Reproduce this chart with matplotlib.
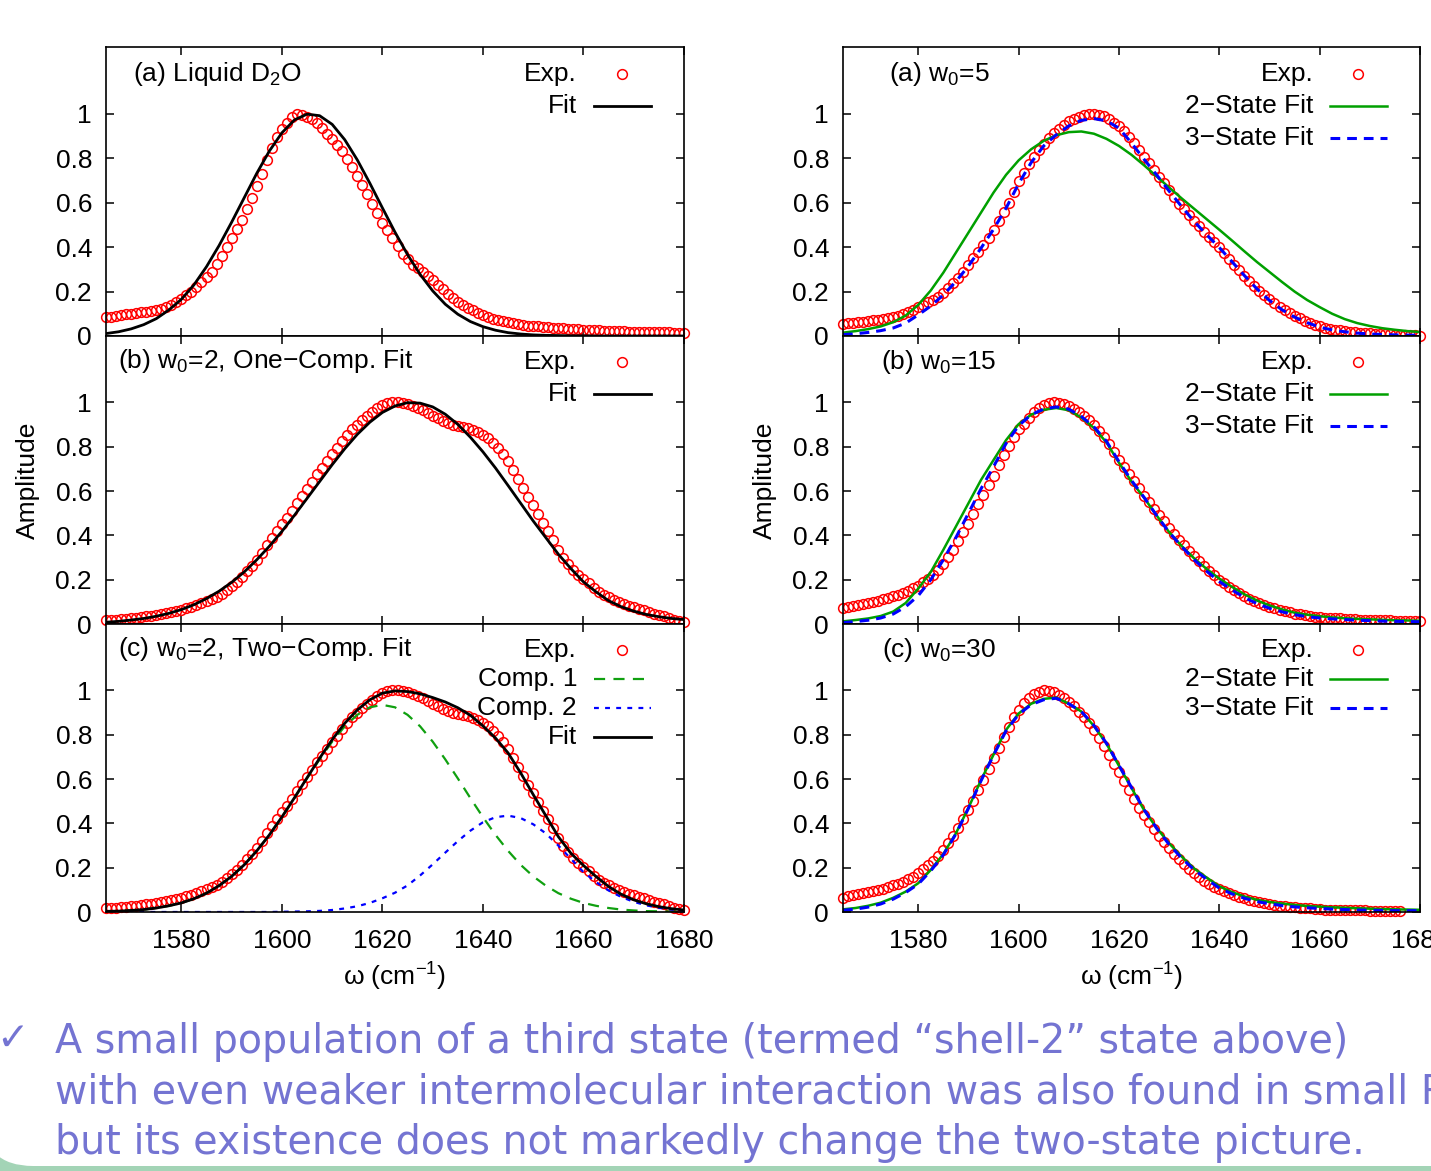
#!/usr/bin/env python3

# Amide/bend band lineshapes: experiment vs. one/two-component and
# two/three-state fits, redrawn in the old gnuplot look

import numpy as np
import matplotlib as mpl
mpl.use('Agg')
from matplotlib import pyplot as plt
from matplotlib.patches import FancyBboxPatch, Rectangle
from matplotlib.ticker import FormatStrFormatter
from matplotlib.transforms import IdentityTransform

plt.rcParams['font.family'] = ['Liberation Sans', 'DejaVu Sans']
plt.rcParams['font.size'] = 19
plt.rcParams['mathtext.fontset'] = 'custom'
plt.rcParams['mathtext.rm'] = 'Liberation Sans'
plt.rcParams['mathtext.it'] = 'Liberation Sans:italic'
plt.rcParams['mathtext.bf'] = 'Liberation Sans:bold'
plt.rcParams['lines.scale_dashes'] = False

# ---- data ----
# experimental spectra sampled every 1 cm^-1, fits every 2.5 cm^-1
wn_exp = np.arange(1565, 1681)
wn_exp_w30 = np.arange(1565, 1677)
wn_fit = np.arange(1565, 1680.1, 2.5)

d2o_exp = [.084, .087, .090, .094, .097, .100, .104, .107, .110, .114,
           .118, .123, .130, .140, .152, .167, .183, .200, .222, .245,
           .267, .290, .323, .360, .400, .440, .480, .520, .570, .620,
           .675, .730, .790, .845, .895, .930, .960, .985, 1.000, .995,
           .985, .975, .960, .935, .910, .885, .858, .830, .795, .760,
           .720, .680, .638, .595, .552, .510, .475, .440, .405, .370,
           .345, .320, .305, .290, .270, .250, .230, .210, .190, .170,
           .155, .140, .127, .115, .104, .093, .085, .078, .072, .067,
           .062, .058, .054, .050, .047, .045, .043, .041, .039, .037,
           .036, .034, .033, .031, .030, .029, .028, .027, .025, .024,
           .023, .022, .021, .021, .020, .019, .019, .018, .018, .017,
           .016, .016, .016, .015, .015, .015]
d2o_fit = [.011, .019, .032, .051, .078, .117, .165, .230, .312, .407,
           .512, .622, .732, .832, .914, .972, .998, .991, .952, .883,
           .792, .687, .576, .467, .366, .277, .203, .143, .098, .065,
           .042, .026, .015, .009, .005, .003, .002, .001, .001, 0, 0,
           0, 0, 0, 0, 0, 0]

w2_exp = [.018, .019, .020, .022, .024, .026, .029, .031, .034, .037,
          .040, .044, .048, .053, .058, .063, .070, .077, .085, .094,
          .103, .113, .124, .137, .152, .170, .191, .213, .238, .262,
          .290, .320, .355, .390, .420, .450, .480, .512, .545, .578,
          .610, .642, .675, .706, .737, .768, .796, .824, .852, .878,
          .900, .922, .940, .958, .975, .988, .996, 1.000, 1.000, .997,
          .992, .985, .975, .965, .953, .940, .928, .916, .907, .900,
          .894, .889, .884, .877, .868, .855, .838, .818, .795, .768,
          .735, .697, .656, .615, .575, .536, .497, .457, .418, .378,
          .335, .300, .270, .244, .222, .203, .185, .162, .145, .132,
          .120, .110, .100, .091, .083, .075, .068, .061, .054, .047,
          .040, .034, .027, .020, .014, .008]
w2_one_fit = [.008, .012, .018, .025, .035, .048, .065, .087, .115, .148,
              .188, .235, .290, .351, .418, .491, .567, .643, .719, .791,
              .856, .911, .955, .984, .999, .997, .980, .947, .901, .843,
              .777, .704, .625, .545, .465, .390, .315, .250, .190, .145,
              .105, .078, .058, .043, .033, .025, .020]
w2_comp1 = [.003, .004, .007, .011, .018, .028, .041, .060, .085, .119,
            .161, .213, .276, .348, .428, .514, .603, .689, .769, .838,
            .890, .924, .935, .924, .890, .838, .769, .689, .603, .514,
            .428, .348, .276, .213, .161, .119, .085, .060, .041, .028,
            .018, .011, .007, .004, .003, .002, .001]
w2_comp2 = [0, 0, 0, 0, 0, 0, 0, 0, 0, 0,
            0, 0, 0, 0, .001, .002, .003, .005, .009, .016,
            .026, .041, .062, .087, .120, .165, .215, .268, .320, .367,
            .405, .428, .435, .424, .396, .355, .300, .240, .180, .135,
            .097, .068, .046, .030, .019, .011, .006]
w2_two_fit = [.003, .004, .007, .011, .018, .028, .041, .060, .085, .119,
              .161, .213, .276, .348, .429, .516, .606, .694, .778, .852,
              .912, .958, .988, .998, .995, .985, .968, .948, .922, .888,
              .840, .785, .718, .628, .530, .435, .340, .265, .210, .160,
              .115, .080, .055, .037, .024, .015, .009]

w5_exp = [.054, .057, .059, .062, .064, .067, .070, .073, .077, .081,
          .086, .092, .099, .107, .118, .130, .141, .152, .164, .177,
          .195, .215, .237, .263, .290, .320, .349, .380, .411, .443,
          .478, .518, .560, .600, .648, .696, .735, .772, .805, .835,
          .862, .890, .912, .932, .950, .965, .977, .987, .994, .999,
          1.000, .996, .988, .976, .960, .944, .922, .896, .867, .837,
          .807, .777, .747, .717, .687, .657, .626, .596, .570, .544,
          .518, .493, .470, .447, .424, .401, .375, .348, .321, .295,
          .272, .249, .226, .203, .183, .165, .148, .131, .116, .103,
          .090, .079, .068, .059, .051, .044, .038, .032, .028, .025,
          .022, .019, .017, .015, .013, .012, .010, .009, .008, .007,
          .006, .005, .004, .003, .003, .002]
w5_fit2 = [.015, .022, .031, .043, .062, .092, .140, .205, .285, .375,
           .465, .555, .645, .725, .790, .840, .878, .903, .917, .920,
           .910, .887, .855, .815, .768, .718, .668, .619, .572, .525,
           .478, .430, .381, .333, .288, .243, .200, .162, .130, .100,
           .076, .058, .045, .035, .028, .022, .018]
w5_fit3 = [.006, .010, .016, .024, .036, .058, .095, .135, .185, .245,
           .315, .395, .480, .575, .685, .780, .855, .905, .945, .970,
           .978, .968, .935, .868, .795, .725, .652, .582, .515, .455,
           .398, .335, .272, .212, .160, .118, .085, .060, .040, .027,
           .019, .013, .009, .007, .005, .004, .003]

w15_exp = [.072, .077, .081, .086, .091, .096, .101, .106, .113, .119,
           .126, .133, .142, .151, .161, .173, .188, .204, .222, .246,
           .272, .302, .335, .374, .414, .453, .496, .540, .584, .627,
           .670, .716, .762, .804, .843, .879, .905, .930, .955, .975,
           .988, .997, 1.000, .998, .992, .983, .970, .955, .939, .920,
           .897, .872, .845, .812, .777, .742, .708, .675, .644, .612,
           .580, .550, .521, .492, .463, .435, .408, .380, .355, .331,
           .307, .284, .262, .241, .219, .199, .184, .169, .155, .140,
           .126, .114, .104, .094, .085, .076, .070, .064, .058, .052,
           .047, .043, .040, .036, .033, .030, .029, .027, .026, .025,
           .024, .022, .021, .020, .019, .018, .018, .017, .016, .016,
           .015, .014, .014, .013, .013, .012]
w15_fit2 = [.012, .018, .025, .036, .056, .095, .160, .235, .335, .440,
            .545, .650, .740, .830, .902, .945, .967, .975, .965, .932,
            .885, .820, .728, .643, .570, .490, .415, .352, .296, .248,
            .205, .168, .134, .106, .084, .066, .051, .042, .035, .030,
            .026, .023, .021, .019, .017, .016, .015]
w15_fit3 = [.006, .011, .017, .027, .045, .078, .128, .200, .290, .390,
            .500, .610, .710, .815, .895, .945, .970, .980, .970, .937,
            .890, .825, .733, .648, .572, .490, .414, .350, .290, .238,
            .192, .154, .120, .092, .071, .055, .042, .033, .027, .023,
            .020, .017, .015, .013, .012, .011, .010]

w30_exp = [.065, .070, .075, .080, .085, .090, .095, .100, .106, .113,
           .120, .127, .136, .147, .160, .175, .192, .211, .231, .255,
           .281, .310, .343, .380, .418, .460, .503, .550, .598, .646,
           .693, .742, .790, .835, .878, .913, .942, .965, .983, .995,
           1.000, .998, .991, .980, .965, .947, .928, .905, .880, .852,
           .820, .785, .748, .710, .670, .630, .590, .550, .510, .470,
           .437, .405, .373, .344, .316, .289, .262, .237, .216, .196,
           .177, .159, .142, .128, .115, .103, .093, .084, .076, .068,
           .061, .055, .049, .044, .039, .035, .031, .028, .026, .024,
           .022, .020, .018, .016, .014, .012, .011, .010, .010, .009,
           .009, .008, .008, .007, .007, .006, .006, .005, .005, .004,
           .004, .003]
w30_fit2 = [.012, .018, .028, .042, .064, .092, .130, .190, .262, .355,
            .470, .595, .710, .822, .896, .940, .962, .968, .940, .905,
            .840, .760, .660, .560, .460, .380, .310, .250, .196, .155,
            .116, .090, .070, .055, .045, .038, .032, .027, .024, .021,
            .019, .017, .015, .013, .012, .011, .010]
w30_fit3 = [.008, .013, .022, .036, .058, .088, .126, .186, .258, .352,
            .468, .592, .708, .818, .892, .936, .958, .965, .940, .905,
            .842, .762, .662, .562, .462, .378, .305, .243, .190, .148,
            .108, .082, .062, .047, .037, .029, .023, .019, .016, .013,
            .011, .009, .008, .007, .006, .006, .006]

y_ticks = [0, 0.2, 0.4, 0.6, 0.8, 1]
x_ticks = [1580, 1600, 1620, 1640, 1660, 1680]

note_lines = ["A small population of a third state (termed \u201cshell-2\u201d state above)",
              "with even weaker intermolecular interaction was also found in small RMs,",
              "but its existence does not markedly change the two-state picture."]

# ---- styles ----
exp_style = dict(ls='none', marker='o', ms=7, mfc='none', mec='#ff0000', mew=1.1)
fit_style = dict(color='black', lw=2.0)
two_style = dict(color='#00a000', lw=1.8)
three_style = dict(color='#0000ff', lw=2.2, ls=(0, (7, 5)))
comp1_style = dict(color='#10a010', lw=1.6, ls=(0, (8, 6)))
comp2_style = dict(color='#0000ff', lw=1.6, ls=(0, (3.5, 4.5)))
note_color = '#7474d2'

W, H = 1431, 1171


def _key(ax, row, label, line=None, marker=None):
	# gnuplot style key: right aligned text, sample to its right
	ax.text(0.815, row, label, transform=ax.transAxes, ha='right', va='center')
	if marker is not None:
		ax.plot([0.893], [row], transform=ax.transAxes, clip_on=False, **marker)
	else:
		ax.plot([0.844, 0.943], [row, row], transform=ax.transAxes, **line)


def _setup_axes(ax, bottom):
	ax.set_xlim(1565, 1680)
	ax.set_ylim(0, 1.3)
	ax.set_xticks(x_ticks)
	ax.set_yticks(y_ticks)
	ax.yaxis.set_major_formatter(FormatStrFormatter('%g'))
	ax.tick_params(direction='in', length=6, width=1.1, top=True, right=True)
	ax.tick_params(axis='y', pad=10)
	ax.tick_params(axis='x', pad=12, labelbottom=bottom)
	for s in ax.spines.values():
		s.set_linewidth(1.2)
	if bottom:
		ax.set_xlabel(r'ω (cm$^{-1}$)', labelpad=6)


fig = plt.figure(figsize=(W / 100, H / 100), dpi=100)

col_x = [106 / W, 843 / W]
col_w = [578 / W, 577 / W]
row_tops = [47, 336, 624]
row_bots = [336, 624, 912]

axes = {}
for c in range(2):
	for r in range(3):
		b = 1 - row_bots[r] / H
		h = (row_bots[r] - row_tops[r]) / H
		ax = fig.add_axes([col_x[c], b, col_w[c], h])
		_setup_axes(ax, r == 2)
		axes[(c, r)] = ax

# left column: liquid D2O and w0=2
ax = axes[(0, 0)]
ax.plot(wn_exp, d2o_exp, clip_on=False, **exp_style)
ax.plot(wn_fit, d2o_fit, **fit_style)
ax.text(0.047, 0.907, r'(a) Liquid D$_2$O', transform=ax.transAxes, va='center')
_key(ax, 0.907, 'Exp.', marker=exp_style)
_key(ax, 0.796, 'Fit', line=fit_style)

ax = axes[(0, 1)]
ax.plot(wn_exp, w2_exp, clip_on=False, **exp_style)
ax.plot(wn_fit, w2_one_fit, **fit_style)
ax.text(0.021, 0.912, '(b) w$_0$=2, One\u2212Comp. Fit', transform=ax.transAxes, va='center')
_key(ax, 0.91, 'Exp.', marker=exp_style)
_key(ax, 0.799, 'Fit', line=fit_style)

ax = axes[(0, 2)]
ax.plot(wn_exp, w2_exp, clip_on=False, **exp_style)
ax.plot(wn_fit, w2_comp1, **comp1_style)
ax.plot(wn_fit, w2_comp2, **comp2_style)
ax.plot(wn_fit, w2_two_fit, **fit_style)
ax.text(0.021, 0.912, '(c) w$_0$=2, Two\u2212Comp. Fit', transform=ax.transAxes, va='center')
_key(ax, 0.91, 'Exp.', marker=exp_style)
_key(ax, 0.809, 'Comp. 1', line=comp1_style)
_key(ax, 0.708, 'Comp. 2', line=comp2_style)
_key(ax, 0.608, 'Fit', line=fit_style)

# right column: w0 = 5, 15, 30 with two- and three-state fits
right = [(w5_exp, wn_exp, w5_fit2, w5_fit3, '(a) w$_0$=5', 0.080, [0.907, 0.796, 0.685]),
         (w15_exp, wn_exp, w15_fit2, w15_fit3, '(b) w$_0$=15', 0.066, [0.91, 0.799, 0.688]),
         (w30_exp, wn_exp_w30, w30_fit2, w30_fit3, '(c) w$_0$=30', 0.068, [0.91, 0.809, 0.708])]
for r, (yexp, xexp, f2, f3, title, tx, rows) in enumerate(right):
	ax = axes[(1, r)]
	ax.plot(xexp, yexp, clip_on=False, **exp_style)
	ax.plot(wn_fit, f2, **two_style)
	ax.plot(wn_fit, f3, **three_style)
	ax.text(tx, rows[0], title, transform=ax.transAxes, va='center')
	_key(ax, rows[0], 'Exp.', marker=exp_style)
	_key(ax, rows[1], '2\u2212State Fit', line=two_style)
	_key(ax, rows[2], '3\u2212State Fit', line=three_style)

fig.text(28 / W, 1 - 480 / H, 'Amplitude', rotation=90, ha='center', va='center')
fig.text(765 / W, 1 - 480 / H, 'Amplitude', rotation=90, ha='center', va='center')

# slide decoration: green frame with a rounded corner at the bottom left
fig.patches.append(Rectangle((0, 0), 1, 40 / H, transform=fig.transFigure,
                             color='#a3d4b6', zorder=-2))
fig.patches.append(FancyBboxPatch((-17, 5), 1600, 320, boxstyle='round,pad=0,rounding_size=50',
                                  transform=IdentityTransform(), fc='white', ec='none', zorder=-1))

# bullet text under the plots
fig.text(-4 / W, 1 - 1050 / H, '\u2713', color=note_color, fontsize=28,
         family=['DejaVu Sans'], va='baseline')
baselines = [1053, 1104, 1154]
notes = []
for line, yb in zip(note_lines, baselines):
	notes.append(fig.text(55 / W, 1 - yb / H, line, color=note_color, fontsize=34,
	                      family=['Liberation Sans Narrow', 'DejaVu Sans'], va='baseline'))
# squeeze the note font so the first line spans the same width as on the slide
renderer = fig.canvas.get_renderer()
w = notes[0].get_window_extent(renderer).width
for t in notes:
	t.set_fontsize(t.get_fontsize() * 1293 / w)

fig.savefig('out.png', dpi=100)
